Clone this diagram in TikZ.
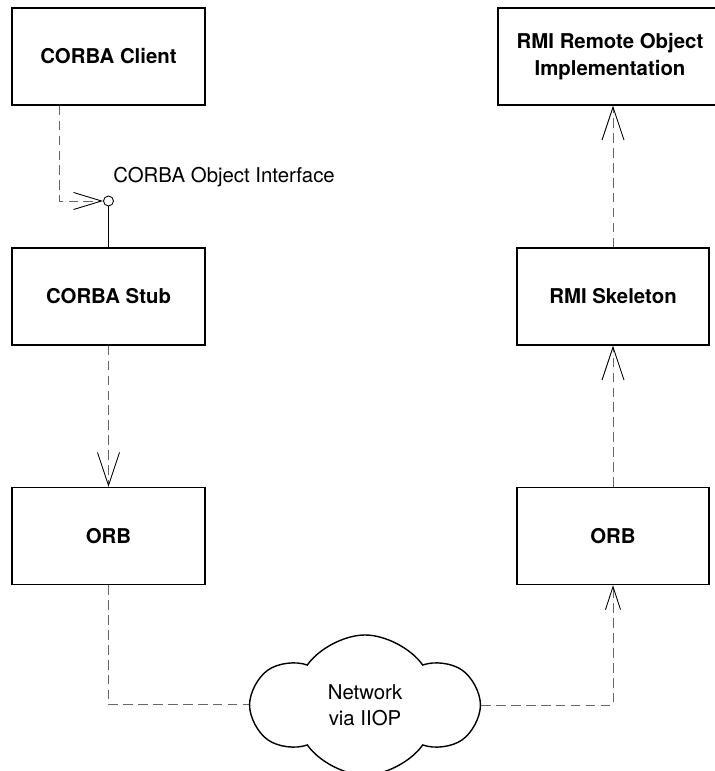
\documentclass[tikz,border=0pt]{standalone}
\usepackage{fontspec}
\setmainfont{TeX Gyre Heros}
\usepackage{tikz}
\usetikzlibrary{shapes.symbols, arrows.meta, positioning}

\definecolor{depgray}{RGB}{102, 102, 102}

\begin{document}
\begin{tikzpicture}[
  compbox/.style={draw, line width=0.8pt, minimum width=3.86cm, minimum height=1.94cm, align=center, inner sep=4pt, font=\bfseries\fontsize{11.6}{15.4}\selectfont},
  dep/.style={draw=depgray, line width=0.55pt, dash pattern=on 5.5pt off 3pt},
  opentip/.style={-{Straight Barb[black, length=0.66cm, width=0.44cm, line width=0.5pt]}},
  smalltip/.style={-{Straight Barb[black, length=0.46cm, width=0.3cm, line width=0.5pt]}},
  lolly/.style={circle, draw, line width=0.5pt, minimum size=0.2cm, inner sep=0pt},
  plain/.style={font=\fontsize{11.6}{14.8}\selectfont, align=center}
]
  \useasboundingbox (0,0) rectangle (14.28,15.42);

  % client side
  \node[compbox] (client) at (2.17, 14.29) {CORBA Client};
  \node[lolly] (iface) at (2.17, 11.40) {};
  \node[plain, anchor=base west, inner sep=0pt] (ifacelabel) at (2.26, 11.76) {CORBA Object Interface};
  \node[compbox] (stub) at (2.17, 9.49) {CORBA Stub};
  \node[compbox] (orbL) at (2.17, 4.70) {ORB};

  % server side
  \node[compbox, minimum width=4.48cm] (remote) at (12.2, 14.29) {RMI Remote Object\\Implementation};
  \node[compbox, minimum width=3.84cm] (skel) at (12.26, 9.49) {RMI Skeleton};
  \node[compbox, minimum width=3.84cm] (orbR) at (12.26, 4.70) {ORB};

  % network
  \node[plain, cloud, cloud puffs=6, cloud puff arc=110, aspect=1.6, draw, line width=0.8pt,
        minimum width=4.48cm, minimum height=2.8cm, inner sep=0pt] (net) at (7.30, 1.32) {Network\\via IIOP};

  \draw[dep, -{Straight Barb[black, length=0.56cm, width=0.34cm, line width=0.5pt]}]
    ([xshift=0.96cm]client.south west) |- (iface.west);
  \draw[line width=0.5pt] (iface) -- (stub);
  \draw[dep, opentip] (stub) -- (orbL);
  \draw[dep] (orbL.south) |- (net.west);
  \draw[dep, smalltip] (net.east) -| (orbR.south);
  \draw[dep, opentip] (orbR) -- (skel);
  \draw[dep, opentip] (skel) -- (skel.north |- remote.south);
\end{tikzpicture}
\end{document}
